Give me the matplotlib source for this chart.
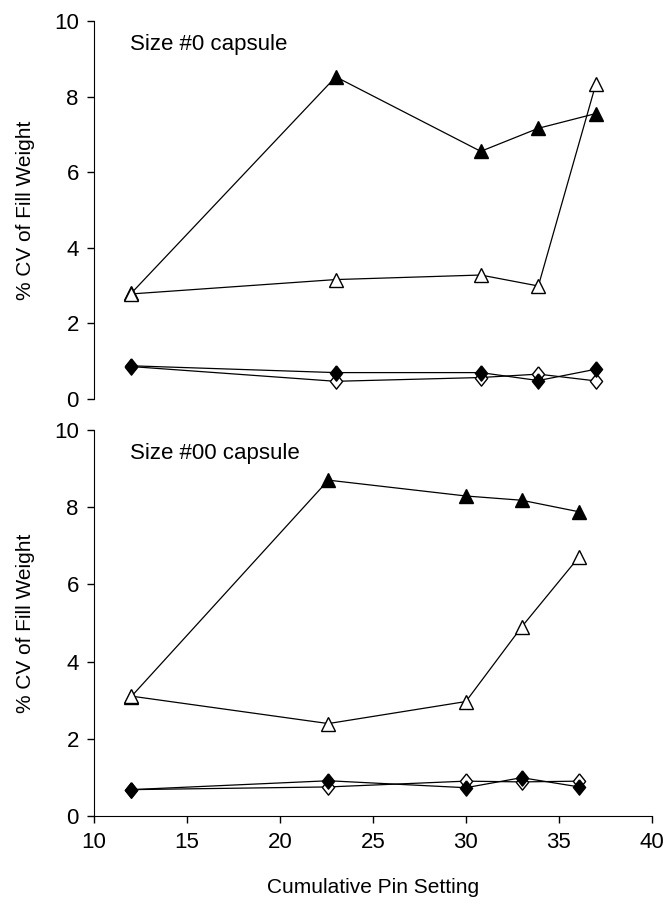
import matplotlib
matplotlib.use("Agg")
import matplotlib.pyplot as plt

plt.rcParams['font.family'] = ['Liberation Sans', 'DejaVu Sans']

# Size #0 capsule (top panel)
x_top = [12, 23, 30.8, 33.9, 37]
filled_tri_top = [2.8, 8.52, 6.55, 7.16, 7.55]
open_tri_top = [2.78, 3.16, 3.28, 2.99, 8.34]
filled_dia_top = [0.88, 0.7, 0.7, 0.49, 0.79]
open_dia_top = [0.86, 0.47, 0.57, 0.66, 0.48]

# Size #00 capsule (bottom panel)
x_bot = [12, 22.6, 30, 33, 36.1]
filled_tri_bot = [3.1, 8.7, 8.29, 8.18, 7.88]
open_tri_bot = [3.11, 2.4, 2.97, 4.9, 6.72]
filled_dia_bot = [0.69, 0.92, 0.74, 1.0, 0.76]
open_dia_bot = [0.69, 0.76, 0.91, 0.89, 0.91]

y_ticks = [0, 2, 4, 6, 8, 10]
x_ticks = [10, 15, 20, 25, 30, 35, 40]

# slightly tall diamond, like the original spreadsheet marker
diamond = [(0, 1), (0.8, 0), (0, -1), (-0.8, 0), (0, 1)]


def draw_panel(ax, x, ftri, otri, fdia, odia, title):
    ax.plot(x, ftri, color='black', lw=0.9, marker='^', ms=10,
            mfc='black', mec='black', zorder=3)
    ax.plot(x, otri, color='black', lw=0.9, marker='^', ms=10,
            mfc='white', mec='black', mew=1.0, zorder=4)
    ax.plot(x, odia, color='black', lw=0.9, marker=diamond, ms=11,
            mfc='white', mec='black', mew=1.0, zorder=3)
    ax.plot(x, fdia, color='black', lw=0.9, marker=diamond, ms=11,
            mfc='black', mec='black', zorder=4)
    ax.set_xlim(10, 40)
    ax.set_ylim(0, 10)
    ax.set_yticks(y_ticks)
    ax.set_ylabel('% CV of Fill Weight', fontsize=15, labelpad=14)
    ax.text(0.065, 0.965, title, transform=ax.transAxes, fontsize=16,
            va='top', ha='left')
    ax.spines['top'].set_visible(False)
    ax.spines['right'].set_visible(False)
    ax.tick_params(axis='both', labelsize=16, length=5, width=1,
                   direction='out', pad=6)


fig = plt.figure(figsize=(6.63, 9.07), dpi=100)
ax1 = fig.add_axes([0.142, 0.560, 0.841, 0.417])
ax2 = fig.add_axes([0.142, 0.100, 0.841, 0.426])

draw_panel(ax1, x_top, filled_tri_top, open_tri_top, filled_dia_top, open_dia_top,
           'Size #0 capsule')
draw_panel(ax2, x_bot, filled_tri_bot, open_tri_bot, filled_dia_bot, open_dia_bot,
           'Size #00 capsule')

ax1.spines['bottom'].set_visible(False)
ax1.set_xticks([])
ax2.set_xticks(x_ticks)
ax2.set_xlabel('Cumulative Pin Setting', fontsize=15, labelpad=18)

fig.savefig('out.png', dpi=100)
